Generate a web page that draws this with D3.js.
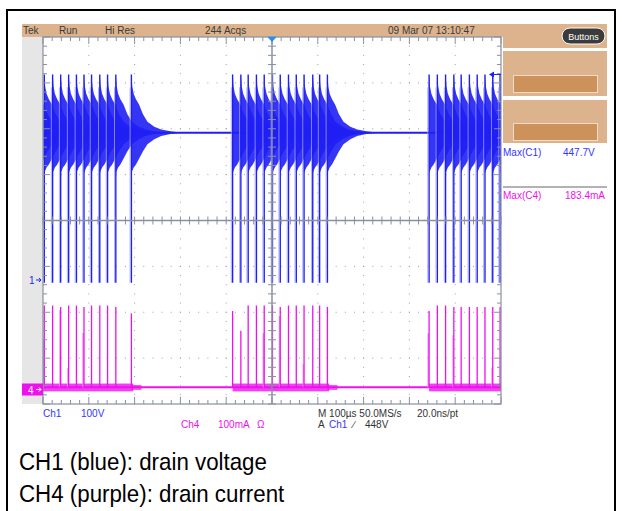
<!DOCTYPE html>
<html>
<head>
<meta charset="utf-8">
<script src="https://cdn.jsdelivr.net/npm/d3@7"></script>
<style>
  body { margin: 0; background: #fff; }
  svg { display: block; }
  text { font-family: "Liberation Sans", Arial, sans-serif; }
</style>
</head>
<body>
<svg width="622" height="511"></svg>
<script>
// switching pulses, time in us from left edge of screen (1 ms record)
var burstA = [-15, 2.8, 21, 38.6, 56, 73, 89.5, 106, 124, 141, 159, 193];
var burstB = [414, 432, 448, 466, 483, 501, 518, 536, 553, 570, 589, 604, 621];
var burstC = [843, 861, 879, 897, 913, 931, 948, 965, 982, 998];

// CH4 peak drain current per pulse (mA)
var peakA = [183, 183, 183, 180, 183, 183, 180, 183, 183, 183, 180, 166];
var peakB = [171, 128, 183, 183, 183, 183, 180, 183, 183, 183, 183, 183, 180];
var peakC = [171, 183, 183, 180, 180, 180, 180, 180, 180, 180];
// fainter second current trace on some pulses (mA, 0 = none)
var ghostA = [0, 108, 0, 173, 47, 0, 123, 0, 123, 0, 0, 0];
var ghostB = [0, 0, 0, 0, 123, 0, 160, 0, 0, 55, 0, 123, 0];
var ghostC = [122, 0, 0, 118, 0, 122, 0, 0, 48, 0];

// CH1 ringing envelope after each turn-off (us after pulse, V)
var ringOffset = [0, 2, 5, 10, 17, 25, 35, 50, 65, 85, 110];
var ringTop = [448, 422, 406, 394, 382, 362, 345, 334, 328, 324, 321];
var ringBot = [232, 238, 245, 252, 265, 280, 296, 307, 314, 318, 321];

var busV = 321, lowV = -6;          // CH1 levels
var idleMA = 5, noiseLo = -4, noiseHi = 13;   // CH4 levels

// scope readouts
var headerLabels = ["Tek", "Run", "Hi Res", "244 Acqs", "09 Mar 07 13:10:47"];
var measLabels = ["Max(C1)", "Max(C4)"];
var measValues = ["447.7V", "183.4mA"];
var captions = ["CH1 (blue): drain voltage", "CH4 (purple): drain current"];

var svg = d3.select("svg");
var tan = "#dcb38c", blue = "#1f1ff5", mag = "#ee10ee", grat = "#8a90a2";

// graticule box
var gL = 43, gR = 501, gT = 37, gB = 404;
var x = d3.scaleLinear().domain([0, 1000]).range([gL, gR]);          // us
var divX = d3.scaleLinear().domain([-5, 5]).range([gL, gR]);
var divY = d3.scaleLinear().domain([-4, 4]).range([gB, gT]);
// 100 V/div, ground 2.7 div above bottom ; 100 mA/div, ground 0.316 div above bottom
var yV = d3.scaleLinear().domain([-270.3, 529.7]).range([gB, gT]);
var yI = d3.scaleLinear().domain([-31.6, 768.4]).range([gB, gT]);

// frame
svg.append("rect").attr("x", 7).attr("y", 10).attr("width", 608).attr("height", 510)
  .attr("fill", "none").attr("stroke", "#000").attr("stroke-width", 2);

// header bar + side panel
svg.append("rect").attr("x", 22).attr("y", 24).attr("width", 585).attr("height", 13).attr("fill", tan);
svg.append("rect").attr("x", 503).attr("y", 24).attr("width", 104).attr("height", 24).attr("fill", tan);
svg.append("rect").attr("x", 22).attr("y", 37).attr("width", 21).attr("height", gB - 37).attr("fill", "#e6e6e6");

var hx = [23, 59, 105, 205, 388];
svg.selectAll(".hdr").data(headerLabels).enter().append("text")
  .attr("class", "hdr").attr("x", function (d, i) { return hx[i]; }).attr("y", 34)
  .attr("font-size", 10).attr("fill", "#3a3a3a").text(function (d) { return d; });

svg.append("rect").attr("x", 562).attr("y", 28).attr("width", 43).attr("height", 16).attr("rx", 8)
  .attr("fill", "#3b3b3b").attr("stroke", "#fff").attr("stroke-width", 1);
svg.append("text").attr("x", 583.5).attr("y", 40).attr("text-anchor", "middle")
  .attr("font-size", 9).attr("fill", "#fff").text("Buttons");

[[51, 45, 75], [100, 43, 123]].forEach(function (b) {
  svg.append("rect").attr("x", 503).attr("y", b[0]).attr("width", 104).attr("height", b[1]).attr("fill", tan);
  svg.append("rect").attr("x", 513.5).attr("y", b[2] + 0.5).attr("width", 84).attr("height", 17)
    .attr("fill", "#cd925c").attr("stroke", "#f3dcc4").attr("stroke-width", 1);
});

// measurements
svg.selectAll(".mname").data(measLabels).enter().append("text")
  .attr("x", 503).attr("y", function (d, i) { return i ? 199 : 156; })
  .attr("font-size", 10).attr("fill", function (d, i) { return i ? mag : "#3434ff"; })
  .text(function (d) { return d; });
svg.selectAll(".mval").data(measValues).enter().append("text")
  .attr("x", function (d, i) { return i ? 565 : 563; }).attr("y", function (d, i) { return i ? 199 : 156; })
  .attr("font-size", 10).attr("fill", function (d, i) { return i ? mag : "#3434ff"; })
  .text(function (d) { return d; });
svg.append("line").attr("x1", 503).attr("x2", 607).attr("y1", 187).attr("y2", 187)
  .attr("stroke", "#999").attr("stroke-width", 1.5);

// dotted grid
var minor = d3.range(-5, 5.01, 0.2), minorY = d3.range(-4, 4.01, 0.2);
var dots = svg.append("g").attr("fill", "#9aa0b0");
[-4, -3, -2, -1, 1, 2, 3, 4].forEach(function (k) {
  dots.selectAll(null).data(minorY).enter().append("rect")
    .attr("x", divX(k) - 0.5).attr("y", function (d) { return divY(d) - 0.5; }).attr("width", 1).attr("height", 1);
});
[-3, -2, -1, 1, 2, 3].forEach(function (k) {
  dots.selectAll(null).data(minor).enter().append("rect")
    .attr("x", function (d) { return divX(d) - 0.5; }).attr("y", divY(k) - 0.5).attr("width", 1).attr("height", 1);
});

// traces
svg.append("clipPath").attr("id", "clip").append("rect")
  .attr("x", gL).attr("y", gT - 10).attr("width", gR - gL).attr("height", gB - gT + 10);
var tr = svg.append("g").attr("clip-path", "url(#clip)");

var bursts = [
  { t: burstA, p: peakA, g: ghostA },
  { t: burstB, p: peakB, g: ghostB },
  { t: burstC, p: peakC, g: ghostC }
];

// CH1 idle level
tr.append("line").attr("x1", gL).attr("x2", gR).attr("y1", yV(busV)).attr("y2", yV(busV))
  .attr("stroke", blue).attr("stroke-width", 2);

var ring = d3.area()
  .x(function (d) { return d.x; })
  .y0(function (d) { return yV(d.lo); })
  .y1(function (d) { return yV(d.hi); });

bursts.forEach(function (b) {
  b.t.forEach(function (t) {
    var pts = ringOffset.map(function (o, i) { return { x: x(t + o), lo: ringBot[i], hi: ringTop[i] }; });
    tr.append("path").attr("d", ring(pts)).attr("fill", blue).attr("opacity", 0.9);
  });
  tr.selectAll(null).data(b.t).enter().append("line")
    .attr("x1", function (d) { return x(d); }).attr("x2", function (d) { return x(d); })
    .attr("y1", yV(lowV)).attr("y2", yV(448))
    .attr("stroke", blue).attr("stroke-width", 1.4);
  // faint leading edge just before each turn-on
  tr.selectAll(null).data(b.t).enter().append("line")
    .attr("x1", function (d) { return x(d) - 1.3; }).attr("x2", function (d) { return x(d) - 1.3; })
    .attr("y1", yV(lowV)).attr("y2", yV(420))
    .attr("stroke", "#9a9aff").attr("stroke-width", 0.8);
});

// CH4 idle + switching noise
tr.append("line").attr("x1", gL).attr("x2", gR).attr("y1", yI(idleMA)).attr("y2", yI(idleMA))
  .attr("stroke", mag).attr("stroke-width", 2);
bursts.forEach(function (b) {
  var t0 = b.t[0], t1 = b.t[b.t.length - 1];
  tr.append("rect").attr("x", x(t0)).attr("width", x(t1 + 4) - x(t0))
    .attr("y", yI(noiseHi)).attr("height", yI(noiseLo) - yI(noiseHi)).attr("fill", mag).attr("opacity", 0.8);
  tr.append("rect").attr("x", x(t1)).attr("width", x(t1 + 22) - x(t1))
    .attr("y", yI(noiseHi - 3)).attr("height", yI(noiseLo + 3) - yI(noiseHi - 3)).attr("fill", mag).attr("opacity", 0.7);
  tr.selectAll(null).data(b.g).enter().filter(function (d) { return d > 0; }).append("line")
    .attr("x1", function (d) { return x(b.t[b.g.indexOf(d)]) - 0.8; })
    .attr("x2", function (d) { return x(b.t[b.g.indexOf(d)]) - 0.8; })
    .attr("y1", yI(idleMA)).attr("y2", function (d) { return yI(d); })
    .attr("stroke", "#f48af4").attr("stroke-width", 1.2);
  tr.selectAll(null).data(b.p).enter().append("line")
    .attr("x1", function (d, i) { return x(b.t[i]); }).attr("x2", function (d, i) { return x(b.t[i]); })
    .attr("y1", yI(idleMA)).attr("y2", function (d) { return yI(d); })
    .attr("stroke", mag).attr("stroke-width", 1.3);
});

// graticule edges and centre cross
var g = svg.append("g").attr("stroke", grat);
g.append("rect").attr("x", gL).attr("y", gT).attr("width", gR - gL).attr("height", gB - gT)
  .attr("fill", "none").attr("stroke-width", 1.2);
g.append("line").attr("x1", gL).attr("x2", gR).attr("y1", divY(0)).attr("y2", divY(0)).attr("stroke-width", 1.5);
g.append("line").attr("x1", divX(0)).attr("x2", divX(0)).attr("y1", gT).attr("y2", gB).attr("stroke-width", 1.5);
function isMajor(d) { return Math.abs(d - Math.round(d)) < 0.01; }
minor.forEach(function (d) {
  var px = divX(d), len = isMajor(d) ? 7 : 4;
  g.append("line").attr("x1", px).attr("x2", px).attr("y1", gT).attr("y2", gT + len);
  g.append("line").attr("x1", px).attr("x2", px).attr("y1", gB).attr("y2", gB - len);
  g.append("line").attr("x1", px).attr("x2", px).attr("y1", divY(0) - 4).attr("y2", divY(0) + 4);
});
minorY.forEach(function (d) {
  var py = divY(d), len = isMajor(d) ? 7 : 4;
  g.append("line").attr("x1", gL).attr("x2", gL + len).attr("y1", py).attr("y2", py);
  g.append("line").attr("x1", gR).attr("x2", gR - len).attr("y1", py).attr("y2", py);
  g.append("line").attr("x1", divX(0) - 4).attr("x2", divX(0) + 4).attr("y1", py).attr("y2", py);
});

// markers
svg.append("path").attr("d", "M" + (divX(0) - 4.5) + "," + gT + "h9l-4.5,5z").attr("fill", "#1e90ff");
svg.append("path").attr("d", "M489," + yV(448) + "l5,-3v6z").attr("fill", blue);
svg.append("line").attr("x1", 494).attr("x2", gR).attr("y1", yV(448)).attr("y2", yV(448)).attr("stroke", blue);
svg.append("text").attr("x", 29).attr("y", yV(0) + 4).attr("font-size", 10).attr("fill", blue).text("1");
svg.append("path").attr("d", "M36," + yV(0) + "h5m-2,-2l2,2l-2,2").attr("stroke", blue).attr("fill", "none");
svg.append("rect").attr("x", 22).attr("y", yI(0) - 6).attr("width", 21).attr("height", 12).attr("fill", mag);
svg.append("text").attr("x", 28).attr("y", yI(0) + 4).attr("font-size", 10).attr("fill", "#fff").text("4");
svg.append("path").attr("d", "M36," + yI(0) + "h5m-2,-2l2,2l-2,2").attr("stroke", "#fff").attr("fill", "none");

// bottom readout
var readout = [
  { x: 43, y: 417, c: "#3434ff", s: "Ch1" }, { x: 81, y: 417, c: "#3434ff", s: "100V" },
  { x: 181, y: 428, c: mag, s: "Ch4" }, { x: 218, y: 428, c: mag, s: "100mA" }, { x: 257, y: 428, c: mag, s: "\u03A9" },
  { x: 318, y: 417, c: "#333", s: "M 100\u00B5s 50.0MS/s" }, { x: 417, y: 417, c: "#333", s: "20.0ns/pt" },
  { x: 318, y: 428, c: "#333", s: "A" }, { x: 329, y: 428, c: "#3434ff", s: "Ch1" },
  { x: 353, y: 428, c: "#333", s: "\u2215" }, { x: 365, y: 428, c: "#333", s: "448V" }
];
svg.selectAll(".ro").data(readout).enter().append("text")
  .attr("x", function (d) { return d.x; }).attr("y", function (d) { return d.y; })
  .attr("font-size", 10).attr("fill", function (d) { return d.c; }).text(function (d) { return d.s; });

// caption (Helvetica-like, slightly condensed)
svg.selectAll(".cap").data(captions).enter().append("text")
  .attr("transform", function (d, i) { return "translate(19," + (470 + i * 32) + ") scale(0.93,1)"; })
  .attr("font-size", 24).attr("fill", "#000").text(function (d) { return d; });
</script>
</body>
</html>
